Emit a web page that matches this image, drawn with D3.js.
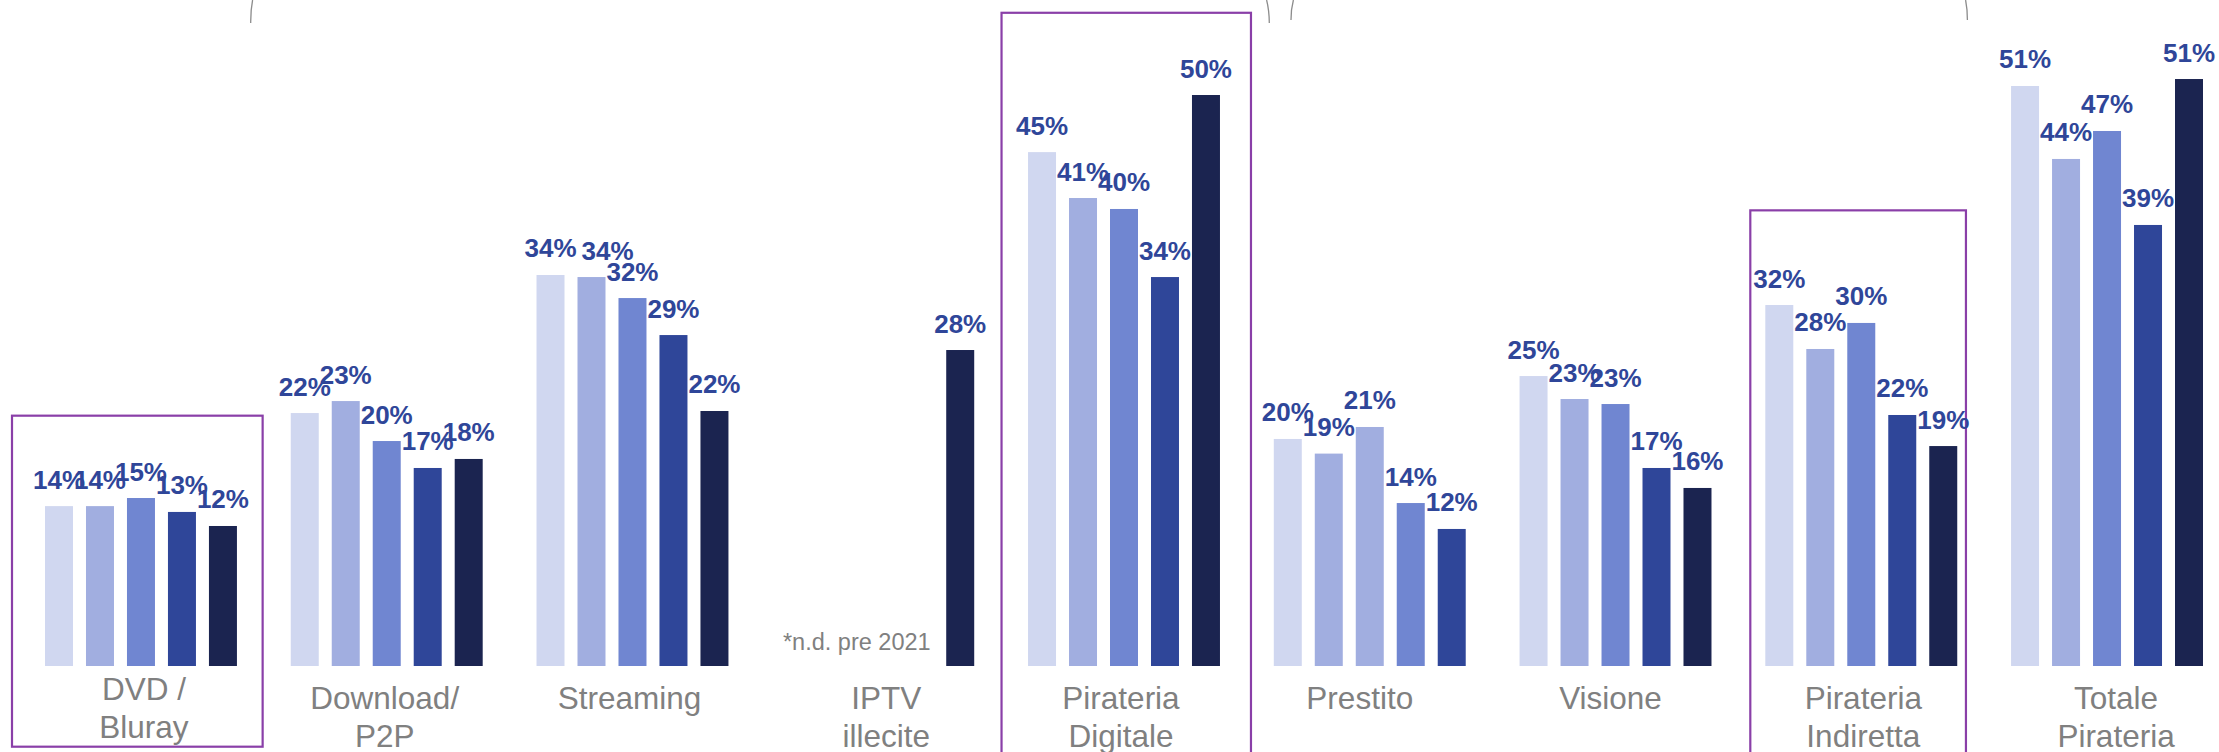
<!DOCTYPE html>
<html>
<head>
<meta charset="utf-8">
<script src="https://cdn.jsdelivr.net/npm/d3@7"></script>
<style>
  html, body { margin: 0; padding: 0; background: #ffffff; }
  svg { display: block; }
</style>
</head>
<body>
<svg id="chart" width="2219" height="752"></svg>
<script>
// ---------------- DATA ----------------
const categories = [
  "DVD /\nBluray", "Download/\nP2P", "Streaming", "IPTV\nillecite",
  "Pirateria\nDigitale", "Prestito", "Visione", "Pirateria\nIndiretta", "Totale\nPirateria"
];
const seriesNames = ["Rilevazione 1", "Rilevazione 2", "Rilevazione 3", "Rilevazione 4", "Rilevazione 5"];
const series1 = [14.0, 22.15, 34.24, null, 45.0, 19.88, 25.39, 31.61, 50.79];
const series2 = [14.0, 23.2, 34.06, null, 40.98, 18.6, 23.38, 27.76, 44.4];
const series3 = [14.71, 19.7, 32.22, null, 40.02, 20.93, 22.94, 30.04, 46.85];
const series4 = [13.49, 17.34, 28.98, null, 34.06, 14.27, 17.34, 21.98, 38.62];
const series5 = [12.26, 18.13, 22.33, 27.67, 50.0, 12.0, 15.59, 19.26, 51.4];
const seriesValues = [series1, series2, series3, series4, series5];
const note = "*n.d. pre 2021";
const highlighted = ["DVD /\nBluray", "Pirateria\nDigitale", "Pirateria\nIndiretta"];

// ---------------- STYLE ----------------
const seriesColors = ["#D0D7F0", "#A1AEE0", "#7086D1", "#2F4699", "#1B2450"];
const colorOverride = { "Prestito": ["#D0D7F0", "#A1AEE0", "#A1AEE0", "#7086D1", "#2F4699"] };
const labelColor = "#2F4699";
const catColor = "#808080";
const boxColor = "#8A3FA8";
const FONT = "'Liberation Sans', Arial, Helvetica, sans-serif";

// small hand-placement offsets (as in the source slide)
const captionNudge = {
  "DVD /\nBluray": [3, -9], "Download/\nP2P": [-2, 0], "Streaming": [-3, 0],
  "IPTV\nillecite": [8, 0], "Pirateria\nDigitale": [-3, 0], "Prestito": [-10, 0],
  "Visione": [-5, 0], "Pirateria\nIndiretta": [2, 0], "Totale\nPirateria": [9, 0]
};
const valueLabelNudge = { "Streaming|1": [16, 0] };
const boxSpec = {
  "DVD /\nBluray": { padL: 33, padR: 25.7, topVal: 21.92, bottom: 746.7 },
  "Pirateria\nDigitale": { padL: 26.5, padR: 31, topVal: 57.2, bottom: 770 },
  "Pirateria\nIndiretta": { padL: 15, padR: 8.7, topVal: 39.9, bottom: 770 }
};

// ---------------- SCALES ----------------
const svg = d3.select("#chart");
const baseY = 666;
const yMax = 58.32;

const x0 = d3.scaleBand().domain(categories).range([45, 2203]).paddingInner(0.219).paddingOuter(0);
const x1 = d3.scaleBand().domain(seriesNames).range([0, x0.bandwidth()]).paddingInner(0.317).paddingOuter(0);
const y = d3.scaleLinear().domain([0, yMax]).range([baseY, 0]);

const rows = [];
categories.forEach((c, ci) => {
  seriesNames.forEach((s, si) => {
    const v = seriesValues[si][ci];
    if (v !== null && v !== undefined) rows.push({ cat: c, ser: s, si, v });
  });
});

// ---------------- DECORATION (cut-off brackets at the top) ----------------
const deco = svg.append("g").attr("fill", "none").attr("stroke", "#8c8c8c").attr("stroke-width", 1.3);
deco.append("path").attr("d", "M252.6,0 Q250.6,10 250.7,23");
deco.append("path").attr("d", "M1266.6,0 Q1269.2,10 1269.3,23");
deco.append("path").attr("d", "M1293.4,0 Q1291.0,9 1291.0,20");
deco.append("path").attr("d", "M1965.6,0 Q1967.4,9 1967.4,20");

// ---------------- HIGHLIGHT BOXES ----------------
svg.append("g").selectAll("rect.box")
  .data(highlighted)
  .join("rect")
  .attr("class", "box")
  .attr("x", d => x0(d) - boxSpec[d].padL)
  .attr("y", d => y(boxSpec[d].topVal))
  .attr("width", d => x0.bandwidth() + boxSpec[d].padL + boxSpec[d].padR)
  .attr("height", d => boxSpec[d].bottom - y(boxSpec[d].topVal))
  .attr("fill", "none")
  .attr("stroke", boxColor)
  .attr("stroke-width", 2.2);

// ---------------- BARS ----------------
const colorOf = d => (colorOverride[d.cat] ? colorOverride[d.cat][d.si] : seriesColors[d.si]);

svg.append("g").selectAll("rect.bar")
  .data(rows)
  .join("rect")
  .attr("class", "bar")
  .attr("x", d => x0(d.cat) + x1(d.ser))
  .attr("y", d => y(d.v))
  .attr("width", x1.bandwidth())
  .attr("height", d => y(0) - y(d.v))
  .attr("fill", colorOf);

// ---------------- VALUE LABELS ----------------
const nud = d => valueLabelNudge[d.cat + "|" + d.si] || [0, 0];
svg.append("g").selectAll("text.val")
  .data(rows)
  .join("text")
  .attr("class", "val")
  .attr("x", d => x0(d.cat) + x1(d.ser) + x1.bandwidth() / 2 + nud(d)[0])
  .attr("y", d => y(d.v) - 17.5 + nud(d)[1])
  .attr("text-anchor", "middle")
  .attr("font-family", FONT)
  .attr("font-weight", "bold")
  .attr("font-size", 26)
  .attr("fill", labelColor)
  .text(d => Math.round(d.v) + "%");

// ---------------- CATEGORY CAPTIONS ----------------
const caps = svg.append("g").selectAll("text.cat")
  .data(categories)
  .join("text")
  .attr("class", "cat")
  .attr("x", d => x0(d) + x0.bandwidth() / 2 + captionNudge[d][0])
  .attr("y", d => baseY + 43 + captionNudge[d][1])
  .attr("text-anchor", "middle")
  .attr("font-family", FONT)
  .attr("font-size", 31.5)
  .attr("fill", catColor);
caps.each(function(d) {
  const t = d3.select(this);
  const cx = +t.attr("x");
  d.split("\n").forEach((line, i) => {
    t.append("tspan").attr("x", cx).attr("dy", i === 0 ? 0 : 37.5).text(line);
  });
});

// ---------------- NOTE ----------------
svg.append("text")
  .attr("x", x0("IPTV\nillecite") + 0.7)
  .attr("y", baseY - 15.7)
  .attr("font-family", FONT)
  .attr("font-size", 23.5)
  .attr("fill", catColor)
  .text(note);
</script>
</body>
</html>
